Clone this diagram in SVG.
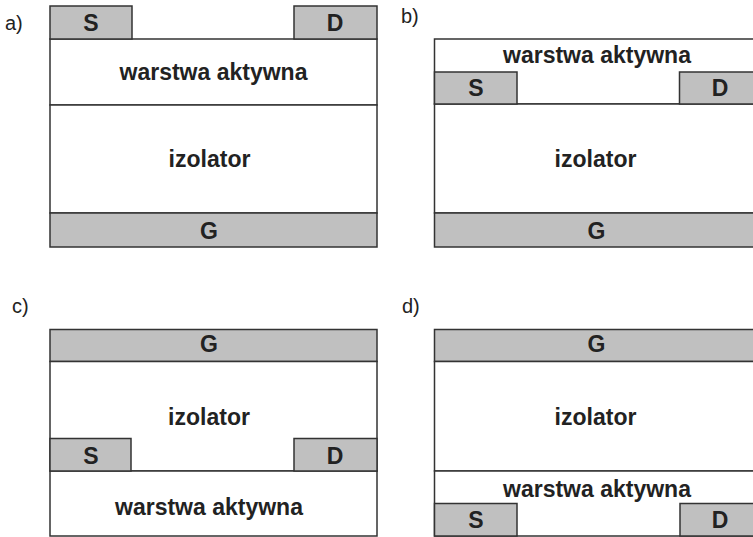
<svg xmlns="http://www.w3.org/2000/svg" width="753" height="537" viewBox="0 0 753 537">
<style>
.b{fill:#fff;stroke:#333;stroke-width:1.5}
.e{fill:#c0c0c0;stroke:#333;stroke-width:1.5}
.t{font-family:"Liberation Sans",Arial,sans-serif;font-weight:bold;font-size:23px;fill:#222;text-anchor:middle}
.l{font-family:"Liberation Sans",Arial,sans-serif;font-size:20px;fill:#222}
</style>
<rect width="753" height="537" fill="#fff"/>
<g id="panel-a">
<text class="l" x="5" y="30">a)</text>
<g id="a-active"><rect class="b" x="50" y="39" width="327" height="66"/><text class="t" x="213.5" y="80">warstwa aktywna</text></g>
<g id="a-iso"><rect class="b" x="50" y="105" width="327" height="108"/><text class="t" x="209.5" y="167">izolator</text></g>
<g id="a-G"><rect class="e" x="50" y="213" width="327" height="34"/><text class="t" x="209" y="239">G</text></g>
<g id="a-S"><rect class="e" x="50" y="6" width="82" height="33"/><text class="t" x="91" y="31">S</text></g>
<g id="a-D"><rect class="e" x="294" y="6" width="83" height="33"/><text class="t" x="335" y="31">D</text></g>
</g>
<g id="panel-b">
<text class="l" x="401" y="23">b)</text>
<g id="b-active"><rect class="b" x="434.5" y="39" width="327" height="65"/><text class="t" x="597" y="63">warstwa aktywna</text></g>
<g id="b-iso"><rect class="b" x="434.5" y="104" width="327" height="109"/><text class="t" x="595.5" y="167">izolator</text></g>
<g id="b-G"><rect class="e" x="434.5" y="213" width="327" height="34"/><text class="t" x="596.5" y="239">G</text></g>
<g id="b-S"><rect class="e" x="434.5" y="72" width="82.5" height="32"/><text class="t" x="476" y="96">S</text></g>
<g id="b-D"><rect class="e" x="679.5" y="72" width="82" height="32"/><text class="t" x="720" y="96">D</text></g>
</g>
<g id="panel-c">
<text class="l" x="12" y="313">c)</text>
<g id="c-G"><rect class="e" x="50" y="329.5" width="327" height="32"/><text class="t" x="209" y="352">G</text></g>
<g id="c-iso"><rect class="b" x="50" y="361.5" width="327" height="109.5"/><text class="t" x="209" y="425">izolator</text></g>
<g id="c-active"><rect class="b" x="50" y="471" width="327" height="65"/><text class="t" x="209" y="515">warstwa aktywna</text></g>
<g id="c-S"><rect class="e" x="50" y="438.5" width="81" height="32.5"/><text class="t" x="91" y="464">S</text></g>
<g id="c-D"><rect class="e" x="294" y="438.5" width="83" height="32.5"/><text class="t" x="335" y="464">D</text></g>
</g>
<g id="panel-d">
<text class="l" x="402" y="313">d)</text>
<g id="d-G"><rect class="e" x="434.5" y="329.5" width="327" height="32"/><text class="t" x="596.5" y="352">G</text></g>
<g id="d-iso"><rect class="b" x="434.5" y="361.5" width="327" height="109.5"/><text class="t" x="595.5" y="425">izolator</text></g>
<g id="d-active"><rect class="b" x="434.5" y="471" width="327" height="65"/><text class="t" x="597" y="497">warstwa aktywna</text></g>
<g id="d-S"><rect class="e" x="434.5" y="503.5" width="82.5" height="32.5"/><text class="t" x="476" y="528">S</text></g>
<g id="d-D"><rect class="e" x="680" y="503.5" width="82" height="32.5"/><text class="t" x="720" y="528">D</text></g>
</g>
</svg>
